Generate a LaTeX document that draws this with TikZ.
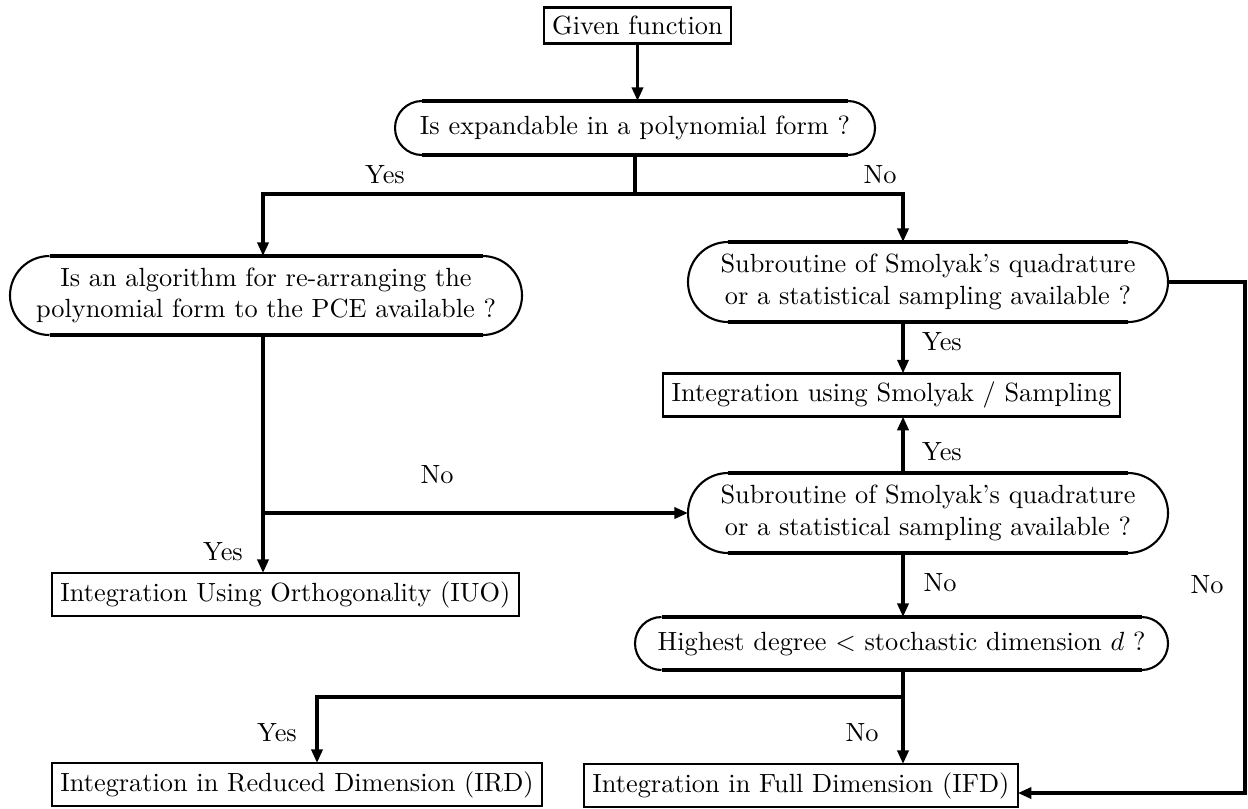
\documentclass[tikz,border=0pt]{standalone}
\usetikzlibrary{arrows.meta,calc}
\tikzset{
  conn/.style={line width=1.3pt},
  arr/.style={line width=1.3pt,-{Triangle[length=5.2pt,width=4.2pt]}},
  rectbox/.style={draw,line width=0.9pt,inner sep=3.2pt,outer sep=0pt},
  pillnode/.style={draw=none,inner sep=0pt,outer sep=0pt,align=center},
  pilledge/.style={line width=1.6pt},
  pillarc/.style={line width=0.8pt},
  lbl/.style={inner sep=0pt}
}
\newcommand\pillbox[6]{%
  \node[pillnode,minimum width={2*#4*0.38pt},minimum height={2*#5*0.38pt}] (#1) at (#2,#3) {#6};
  \draw[pilledge] (#2-#4+#5,#3+#5) -- (#2+#4-#5,#3+#5);
  \draw[pilledge] (#2-#4+#5,#3-#5) -- (#2+#4-#5,#3-#5);
  \draw[pillarc] (#2-#4+#5,#3+#5) arc[start angle=90,end angle=270,radius={#5*0.38pt}];
  \draw[pillarc] (#2+#4-#5,#3-#5) arc[start angle=-90,end angle=90,radius={#5*0.38pt}];
}
\begin{document}
\begin{tikzpicture}[x=0.38pt,y=0.38pt]
\useasboundingbox (0,0) rectangle (1248,-808);
% column coordinates
\coordinate (cl) at (263,0);
\coordinate (cr) at (903,0);
\coordinate (cd) at (317,0);
\coordinate (j1) at (635,-194);
\coordinate (j5) at (903,-697);
\coordinate (rr) at (1245,-793);
% boxes
\node[rectbox] (given) at (637.5,-25.5) {Given function};
\pillbox{q1}{635}{-128}{240}{27}{Is expandable in a polynomial form ?}
\pillbox{q2}{266}{-295.5}{256}{39.5}{Is an algorithm for re-arranging the\\polynomial form to the PCE available ?}
\pillbox{q3}{928}{-282}{240}{40}{Subroutine of Smolyak's quadrature\\or a statistical sampling available ?}
\node[rectbox] (smol) at (891.5,-395) {Integration using Smolyak / Sampling};
\pillbox{q4}{928}{-513}{240}{40}{Subroutine of Smolyak's quadrature\\or a statistical sampling available ?}
\node[rectbox,anchor=north west] (iuo) at (52,-573) {Integration Using Orthogonality (IUO)};
\pillbox{q5}{901.5}{-643.5}{266.5}{26.5}{Highest degree $<$ stochastic dimension $d$ ?}
\node[rectbox,anchor=north west] (ird) at (52,-763) {Integration in Reduced Dimension (IRD)};
\node[rectbox,anchor=north west] (ifd) at (584,-764) {Integration in Full Dimension (IFD)};
% connectors
\draw[arr] (given.south) -- (given.south |- q1.north);
\draw[conn] (q1.south) -- (j1);
\draw[arr] (j1) -| (q2.north -| cl);
\draw[arr] (j1) -| (q3.north -| cr);
\draw[arr] (q3.south -| cr) -- (smol.north -| cr);
\draw[arr] (q4.north -| cr) -- (smol.south -| cr);
\draw[arr] (q2.south -| cl) -- (iuo.north -| cl);
\draw[arr] (cl |- q4.west) -- (q4.west);
\draw[arr] (q4.south -| cr) -- (q5.north -| cr);
\draw[conn] (q5.south -| cr) -- (j5);
\draw[arr] (j5) -| (ird.north -| cd);
\draw[arr] (j5) -- (ifd.north -| cr);
\draw[arr] (q3.east) -| (rr) -- (rr -| ifd.east);
% labels
\node[lbl] (l1) at (385,-175) {Yes};
\node[lbl] (l2) at (880,-175) {No};
\node[lbl] (l3) at (942,-342) {Yes};
\node[lbl] (l4) at (942,-452) {Yes};
\node[lbl] (l5) at (437,-475) {No};
\node[lbl] (l6) at (223,-552) {Yes};
\node[lbl] (l7) at (940,-583) {No};
\node[lbl] (l8) at (1207,-585) {No};
\node[lbl] (l9) at (277,-733) {Yes};
\node[lbl] (l10) at (862,-733) {No};
\end{tikzpicture}
\end{document}
